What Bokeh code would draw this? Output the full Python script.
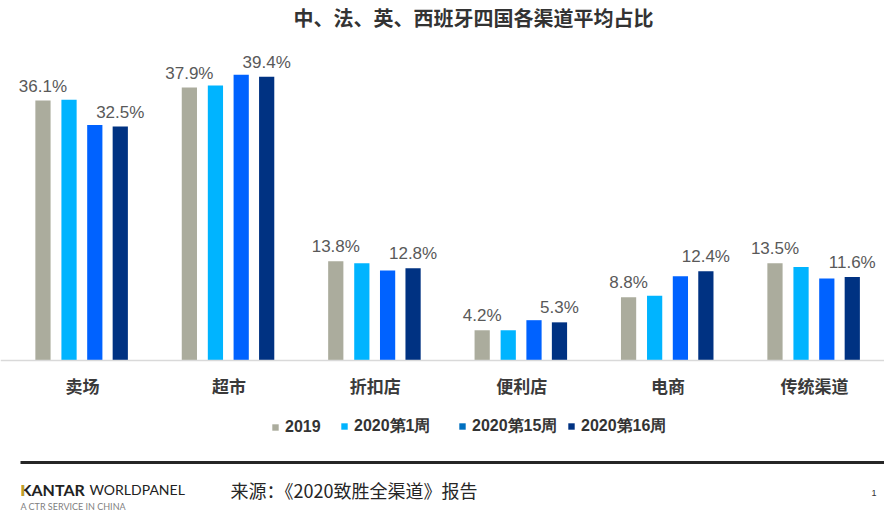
from bokeh.plotting import figure
from bokeh.models import (ColumnDataSource, Range1d, FixedTicker, LabelSet, Label,
                          Legend, LegendItem, BoxAnnotation)
from bokeh.core.properties import value
from bokeh.transform import dodge
from bokeh.embed import file_html
from bokeh.resources import INLINE

# ---------------- data ----------------
categories = ["卖场", "超市", "折扣店", "便利店", "电商", "传统渠道"]
series_names = ["2019", "2020第1周", "2020第15周", "2020第16周"]
v_2019 = [36.1, 37.9, 13.8, 4.2, 8.8, 13.5]
v_w1 = [36.2, 38.2, 13.5, 4.2, 9.0, 13.0]
v_w15 = [32.7, 39.7, 12.5, 5.6, 11.7, 11.4]
v_w16 = [32.5, 39.4, 12.8, 5.3, 12.4, 11.6]
title_text = "中、法、英、西班牙四国各渠道平均占比"
source_text = "来源：《2020致胜全渠道》报告"

# ---------------- styles ----------------
bar_colors = ["#ABAC9D", "#00B4FF", "#0062FF", "#003282"]
legend_colors = ["#ABAC9D", "#00B4FF", "#0070C0", "#003282"]
show_labels = [True, False, False, True]
offsets = [-0.27, -0.092, 0.084, 0.258]
bar_width = 0.104
CJK = "Noto Sans CJK SC"
LAT = "Liberation Sans"

W, H = 884, 521
p = figure(width=W, height=H, output_backend="svg", toolbar_location=None,
           x_range=Range1d(-0.5601, 5.4781), y_range=Range1d(-22.36, 50.0),
           min_border_left=0, min_border_right=0, min_border_top=0,
           min_border_bottom=0)

p.outline_line_color = None
p.xgrid.visible = False
p.ygrid.visible = False
p.yaxis.visible = False
p.xaxis.fixed_location = 0
p.xaxis.ticker = FixedTicker(ticks=list(range(len(categories))))
p.xaxis.major_label_overrides = {i: c for i, c in enumerate(categories)}
p.xaxis.major_tick_line_color = None
p.xaxis.minor_tick_line_color = None
p.xaxis.axis_line_color = "#D9D9D9"
p.xaxis.axis_line_width = 1.5
p.xaxis.major_label_standoff = 6
p.xaxis.major_label_text_font = CJK
p.xaxis.major_label_text_font_size = "17px"
p.xaxis.major_label_text_font_style = "bold"
p.xaxis.major_label_text_color = "#3A3A3A"

# title
p.add_layout(Label(x=473, y=504, x_units="screen", y_units="screen", text=title_text,
                   text_font=CJK, text_font_size="20px", text_font_style="bold",
                   text_color="#333333", text_align="center", text_baseline="middle"))

all_values = [v_2019, v_w1, v_w15, v_w16]
renderers = []
sources = []
for k, vals in enumerate(all_values):
    src = ColumnDataSource(dict(x=list(range(len(categories))), y=vals,
                                label=[f"{v:.1f}%" for v in vals]))
    sources.append(src)
    r = p.vbar(x=dodge("x", offsets[k], range=p.x_range), top="y", width=bar_width,
               source=src, fill_color=bar_colors[k], line_color=None)
    renderers.append(r)
    if show_labels[k]:
        ls = LabelSet(x=dodge("x", offsets[k], range=p.x_range), y="y", text="label",
                      source=src, y_offset=5, text_align="center",
                      text_baseline="bottom", text_font_size=value("17px"),
                      text_font=value(LAT), text_color="#595959")
        p.add_layout(ls)

# legend: one legend per entry, placed to match the reference
legend_x = [271, 340, 458, 567]
for k, name in enumerate(series_names):
    if legend_colors[k] != bar_colors[k]:
        # zero-height proxy that only carries the legend swatch colour
        rr = p.vbar(x=dodge("x", offsets[k], range=p.x_range), top=0, width=bar_width,
                    source=sources[k], fill_color=legend_colors[k], line_color=None)
    else:
        rr = renderers[k]
    lg = Legend(items=[LegendItem(label=name, renderers=[rr])],
                location=(legend_x[k], 84.5), orientation="horizontal",
                padding=0, margin=0, spacing=0, glyph_width=8, glyph_height=8,
                label_standoff=6, label_height=20, border_line_color=None,
                background_fill_alpha=0, label_text_font=LAT,
                label_text_font_size="16px", label_text_font_style="bold",
                label_text_color="#333333")
    p.add_layout(lg, "center")

# footer
p.add_layout(BoxAnnotation(left=20, right=884, top=60.5, bottom=57.5,
                           left_units="screen", right_units="screen",
                           top_units="screen", bottom_units="screen",
                           fill_color="#262626", fill_alpha=1, line_color=None))
p.add_layout(Label(x=20, y=32, x_units="screen", y_units="screen", text="KANTAR",
                   text_font="Lato", text_font_size="16px", text_font_style="bold",
                   text_color="#222222", text_baseline="middle"))
p.add_layout(Label(x=20, y=32, x_units="screen", y_units="screen", text="I",
                   text_font="Lato", text_font_size="16px", text_font_style="bold",
                   text_color="#C9A227", text_baseline="middle"))
p.add_layout(Label(x=89, y=32, x_units="screen", y_units="screen", text="WORLDPANEL",
                   text_font="Lato", text_font_size="14px",
                   text_color="#222222", text_baseline="middle"))
p.add_layout(Label(x=20, y=15, x_units="screen", y_units="screen",
                   text="A CTR SERVICE IN CHINA", text_font="Lato", text_font_size="9px",
                   text_color="#7F7F7F", text_baseline="middle"))
p.add_layout(Label(x=230, y=32, x_units="screen", y_units="screen", text=source_text,
                   text_font=CJK, text_font_size="18px", text_color="#262626",
                   text_baseline="middle"))
p.add_layout(Label(x=871, y=29, x_units="screen", y_units="screen", text="1",
                   text_font=LAT, text_font_size="9px", text_color="#333333",
                   text_baseline="middle"))

open("out.html", "w").write(file_html(p, INLINE))
